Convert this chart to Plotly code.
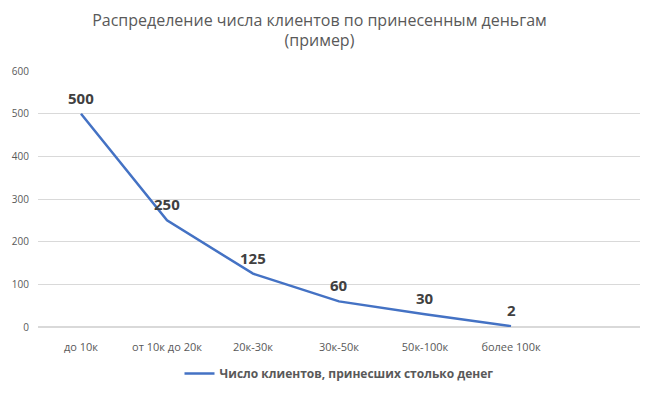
import plotly.graph_objects as go

categories = ["до 10к", "от 10к до 20к", "20к-30к", "30к-50к", "50к-100к", "более 100к"]
values = [500, 250, 125, 60, 30, 2]
series_name = "Число клиентов, принесших столько денег"
title_text = "Распределение числа клиентов по принесенным деньгам<br>(пример)"

fig = go.Figure()
fig.add_trace(go.Scatter(
    x=categories, y=values, mode="lines", name=series_name,
    line=dict(color="#4472C4", width=2.5),
    cliponaxis=False,
))
for c, v in zip(categories, values):
    fig.add_annotation(x=c, y=v, text=str(v), showarrow=False, yshift=16,
                       font=dict(family="Open Sans", size=15, color="#404040", weight="bold"))
fig.update_layout(
    width=656, height=394,
    margin=dict(l=38, r=16, t=71, b=67, autoexpand=False),
    paper_bgcolor="white", plot_bgcolor="white",
    title=dict(text=title_text, x=0.487, xanchor="center", y=0.935, yanchor="top",
               font=dict(family="Open Sans", size=16, color="#595959")),
    showlegend=True,
    legend=dict(orientation="h", x=0.5, xanchor="center", y=-0.125, yanchor="top",
                font=dict(family="Open Sans", size=12, color="#595959", weight="bold")),
    font=dict(family="Open Sans", color="#595959"),
)
fig.update_xaxes(type="category", range=[-0.5, 6.5], showgrid=False, showline=False,
                 ticks="", tickfont=dict(size=11, color="#595959"), ticklabelstandoff=12,
                 automargin=False)
fig.update_yaxes(range=[0, 600], dtick=100, showgrid=True, gridcolor="#D9D9D9", gridwidth=1,
                 zeroline=True, zerolinecolor="#D9D9D9", showline=False,
                 tickfont=dict(size=10, color="#595959"), ticklabelstandoff=8,
                 automargin=False)
fig.write_html("out.html", config={"displayModeBar": False},
               post_script="document.body.style.margin='0';")
